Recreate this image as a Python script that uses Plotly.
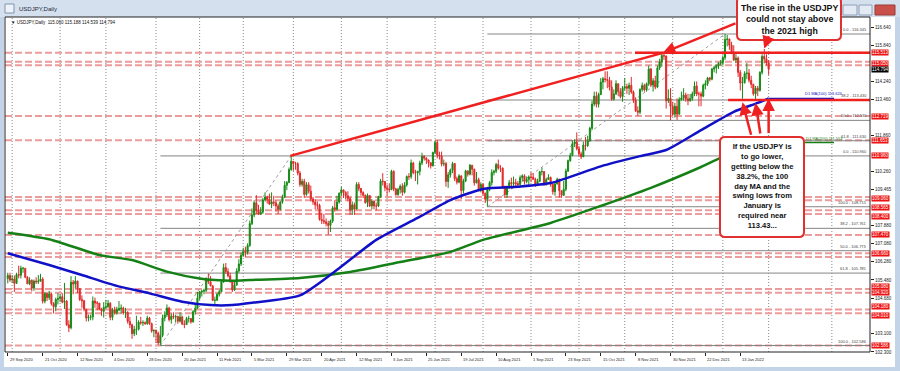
import plotly.graph_objects as go

# ---------------- DATA ----------------
closes = [
105.68,105.48,105.52,105.33,105.72,105.69,106.00,106.00,105.60,105.31,
105.47,105.12,105.43,105.40,105.43,105.52,104.54,104.88,104.70,104.86,
104.44,104.30,104.62,104.66,104.74,104.50,104.54,103.50,103.37,105.38,
105.30,105.43,105.10,104.62,104.56,104.19,103.80,103.83,103.85,104.55,
104.46,104.46,104.20,104.10,104.27,104.30,104.45,103.83,104.17,104.03,
104.16,104.22,104.24,104.02,104.04,103.65,103.50,103.11,103.29,103.30,
103.62,103.59,103.60,103.55,103.80,103.55,103.23,103.25,103.13,102.70,
103.03,103.80,103.94,104.24,103.73,103.88,103.84,103.87,103.66,103.85,
103.53,103.51,103.78,103.78,103.63,104.08,104.23,104.68,104.95,104.98,
105.02,105.53,105.40,105.22,104.58,104.59,104.85,104.96,105.40,106.03,
105.85,105.66,105.42,105.04,105.25,105.88,106.19,106.57,106.74,106.70,
107.00,107.97,108.35,108.89,108.55,108.40,108.48,109.02,109.14,109.04,
108.83,108.93,108.89,108.75,108.60,108.93,109.15,109.66,109.79,110.36,
110.72,110.62,110.62,110.20,109.70,109.84,109.26,109.69,109.40,109.06,
108.93,108.80,108.78,108.15,108.10,108.05,107.98,107.89,108.08,108.67,
108.60,108.92,109.31,109.46,109.35,109.20,109.08,108.58,108.80,108.61,
109.70,109.52,109.34,109.22,108.90,109.21,108.75,108.96,108.75,108.75,
109.15,109.85,109.83,109.55,109.50,109.47,110.28,109.50,109.25,109.48,
109.62,109.35,109.68,110.05,110.04,110.65,110.22,110.21,110.28,110.65,
110.94,110.86,110.78,110.66,110.52,111.11,111.55,111.00,110.95,110.60,
110.62,109.83,110.13,110.33,110.62,109.96,109.80,110.08,109.43,109.85,
110.30,110.15,110.55,110.37,109.77,109.91,109.46,109.70,109.30,109.05,
109.48,109.78,110.23,110.28,110.58,110.42,110.42,109.60,109.25,109.60,
109.78,109.74,109.78,109.73,109.70,110.00,110.08,109.83,109.92,110.03,
110.02,109.93,109.71,109.84,110.26,110.27,109.73,109.92,110.01,109.70,
109.38,109.72,109.93,109.42,109.22,109.49,110.29,110.75,110.99,111.50,
111.57,111.28,111.05,110.92,111.44,111.42,111.62,112.18,113.25,113.60,
113.24,113.67,114.22,114.37,114.34,114.30,114.00,113.47,113.70,114.15,
113.80,113.58,113.95,114.02,113.95,114.08,113.78,113.42,112.95,112.89,
113.89,114.07,113.88,114.15,114.80,114.09,114.28,114.00,114.85,115.10,
115.40,115.37,113.40,113.50,113.15,112.80,113.15,112.80,113.45,113.52,
113.65,113.48,113.40,113.50,113.70,114.05,113.70,113.70,113.60,114.08,
114.15,114.40,114.35,114.80,114.85,114.95,115.05,115.08,115.30,116.10,
116.12,115.85,115.55,115.20,115.28,114.65,114.18,114.20,114.60,114.62,
114.30,114.12,113.70,113.95,113.85,114.65,115.35,115.25,115.06,114.79]

highs = [
105.80,105.80,105.70,105.68,105.80,106.11,106.11,106.05,106.00,105.65,
105.60,105.50,105.50,105.60,105.70,105.75,105.60,104.95,104.90,105.00,
104.90,104.50,104.70,104.90,104.85,104.90,105.35,104.60,103.70,105.65,
105.48,105.65,105.45,105.10,104.80,104.60,104.20,103.95,103.95,104.75,
104.70,104.55,104.45,104.25,104.50,104.60,104.60,104.50,104.25,104.30,
104.30,104.55,104.40,104.30,104.25,104.10,103.85,103.55,103.45,103.90,
103.70,103.85,103.70,103.65,103.90,103.85,103.60,103.30,103.30,103.20,
103.45,103.95,104.10,104.40,104.30,104.00,104.05,103.95,103.90,104.05,
103.90,103.70,103.85,103.90,103.80,104.15,104.45,104.95,105.00,105.05,
105.10,105.60,105.77,105.65,105.25,104.75,104.90,105.05,105.45,106.20,
106.23,106.00,105.80,105.45,105.40,106.00,106.40,106.69,106.90,106.95,
107.10,108.10,108.64,109.00,109.23,108.80,108.70,109.10,109.35,109.20,
109.30,109.35,109.20,109.00,108.85,108.95,109.25,109.85,109.85,110.45,
110.96,110.70,110.70,110.68,110.30,109.95,109.95,109.80,109.80,109.65,
109.15,109.05,108.95,108.85,108.45,108.40,108.20,108.10,108.15,108.75,
109.00,109.20,109.35,109.60,109.45,109.40,109.40,109.15,108.95,108.90,
109.80,109.80,109.55,109.40,109.25,109.30,109.20,109.05,109.00,108.90,
109.20,109.95,110.20,109.85,109.70,109.75,110.35,110.32,109.55,109.55,
109.70,109.75,109.80,110.10,110.20,110.80,110.70,110.35,110.30,110.75,
111.10,111.00,110.90,110.80,110.60,111.15,111.65,111.66,111.15,111.15,
110.80,110.70,110.25,110.40,110.70,110.65,110.05,110.15,110.00,109.95,
110.35,110.30,110.60,110.55,110.40,110.25,110.00,109.80,109.75,109.35,
109.60,109.85,110.37,110.35,110.65,110.80,110.55,110.45,109.65,109.65,
109.90,110.00,110.05,109.95,109.85,110.10,110.15,110.15,110.05,110.10,
110.25,110.20,110.00,109.95,110.30,110.45,110.20,110.00,110.15,110.05,
109.75,109.80,110.00,109.95,109.45,109.85,110.40,110.80,111.10,111.65,
111.70,112.00,111.40,111.15,111.60,111.80,111.85,112.25,113.40,113.80,
113.80,113.75,114.40,114.45,114.70,114.70,114.45,114.30,113.90,114.30,
114.15,113.95,114.05,114.40,114.15,114.20,114.45,113.85,113.55,113.15,
113.95,114.20,114.15,114.20,114.95,114.85,114.40,114.50,114.95,115.25,
115.52,115.50,115.40,113.90,113.95,113.35,113.30,113.50,113.55,113.80,
113.95,113.75,113.70,113.70,113.80,114.25,114.25,113.80,113.80,114.15,
114.30,114.45,114.45,114.85,114.95,115.00,115.10,115.20,115.40,116.35,
116.30,116.15,116.00,115.85,115.45,115.35,114.75,114.45,114.70,115.06,
114.80,114.50,114.15,114.05,114.05,114.70,115.45,115.68,115.45,115.19]

lows = [
105.33,105.40,105.35,104.95,105.30,105.55,105.55,105.80,105.56,105.30,
105.25,104.98,105.00,105.30,105.30,105.40,104.44,104.45,104.55,104.60,
104.35,104.00,104.10,104.40,104.50,104.45,104.20,103.45,103.18,103.30,
104.85,105.10,104.90,104.55,104.25,104.10,103.65,103.65,103.70,103.70,
104.25,104.15,104.15,103.90,103.82,104.20,104.25,103.70,103.70,103.95,
103.95,104.10,104.00,103.95,103.80,103.55,103.35,102.88,103.00,103.05,
103.25,103.50,103.45,103.50,103.50,103.50,103.15,102.95,102.70,102.60,
102.59,102.95,103.65,103.85,103.65,103.55,103.75,103.60,103.55,103.60,
103.50,103.35,103.50,103.60,103.55,103.60,103.95,104.25,104.60,104.75,
104.85,104.95,105.30,105.20,104.55,104.40,104.55,104.75,104.95,105.35,
105.75,105.60,105.35,104.95,105.00,105.25,105.80,106.10,106.50,106.50,
106.60,106.95,107.90,108.25,108.40,108.35,108.35,108.40,108.95,108.85,
108.80,108.65,108.75,108.50,108.40,108.55,108.85,109.10,109.45,109.75,
110.30,110.30,110.35,110.10,109.60,109.60,109.10,109.20,109.30,108.95,
108.80,108.60,108.60,108.10,107.95,107.95,107.85,107.48,107.60,108.00,
108.50,108.55,108.85,109.20,109.10,109.05,108.95,108.35,108.35,108.35,
108.60,109.40,109.20,109.10,108.85,108.70,108.70,108.60,108.60,108.55,
108.70,109.10,109.65,109.40,109.20,109.35,109.45,109.40,109.20,109.20,
109.30,109.20,109.30,109.60,109.90,109.95,110.15,109.85,109.70,110.10,
110.55,110.75,110.60,110.45,110.40,110.50,111.05,110.85,110.80,110.50,
110.50,109.60,109.55,110.00,110.20,109.85,109.70,109.75,109.06,109.30,
109.80,110.05,110.10,110.10,109.65,109.75,109.40,109.35,109.20,108.88,
108.72,109.40,109.65,110.10,110.20,110.35,110.25,109.50,109.10,109.10,
109.50,109.50,109.60,109.60,109.55,109.60,109.85,109.70,109.75,109.60,
109.80,109.90,109.60,109.65,109.80,110.10,109.65,109.65,109.90,109.60,
109.25,109.20,109.70,109.12,109.12,109.20,109.40,110.25,110.70,110.95,
111.35,111.20,110.95,110.82,110.95,111.20,111.35,111.60,112.10,113.15,
113.10,113.10,113.65,113.90,114.20,113.95,113.85,113.40,113.40,113.65,
113.60,113.50,113.35,113.85,113.70,113.65,113.70,113.30,112.90,112.73,
112.80,113.80,113.80,113.80,114.05,114.00,113.80,113.90,113.95,114.75,
114.90,115.20,113.05,113.30,112.53,112.70,112.65,112.55,112.80,113.40,
113.40,113.35,113.20,113.35,113.40,113.60,113.60,113.15,113.15,113.55,
113.90,114.05,114.25,114.30,114.65,114.60,114.80,114.95,114.95,115.20,
115.80,115.65,115.45,115.15,115.05,114.45,113.85,113.48,114.15,114.35,
114.20,113.95,113.62,113.47,113.60,113.80,114.55,115.05,114.95,114.54]

first_open = 105.55
opens = [first_open] + closes[:-1]
bars = list(range(len(closes)))

ma100_bar = [0, 19, 34, 50, 65, 80, 93, 103, 111, 134, 152, 169, 188, 203, 218, 234, 249, 272, 290, 302, 318, 333, 344, 349]
ma100_val = [106.66, 106.14, 105.70, 105.22, 104.89, 104.52, 104.37, 104.37, 104.46, 104.80, 106.00, 107.25,
             108.22, 109.01, 109.50, 109.60, 109.76, 110.50, 110.95, 111.22, 112.10, 112.91, 113.30, 113.50]
ma200_bar = [0, 19, 42, 57, 73, 88, 103, 111, 134, 157, 180, 203, 218, 249, 272, 295, 318, 327, 349]
ma200_val = [107.57, 107.28, 106.58, 106.36, 105.85, 105.55, 105.45, 105.48, 105.57, 105.83, 106.27, 106.72,
             107.25, 108.00, 108.75, 109.55, 110.47, 110.87, 111.55]
ma100_last_text = "D1 MA(100) 113.624"
ma200_last_text = "D1 MA(200) 111.553"
ma_label_bar = 379

xlabel_text = ["29 Sep 2020", "21 Oct 2020", "12 Nov 2020", "4 Dec 2020", "28 Dec 2020", "20 Jan 2021",
               "11 Feb 2021", "5 Mar 2021", "29 Mar 2021", "20 Apr 2021", "12 May 2021", "3 Jun 2021",
               "25 Jun 2021", "19 Jul 2021", "10 Aug 2021", "1 Sep 2021", "23 Sep 2021", "15 Oct 2021",
               "8 Nov 2021", "30 Nov 2021", "22 Dec 2021", "13 Jan 2022"]
xlabel_bar = [0, 16, 32, 48, 64, 80, 96, 112, 128, 144, 160, 176, 192, 208, 224, 240, 256, 272, 288, 304, 320, 336]
month_bar = [2, 24, 45, 68, 88, 108, 131, 153, 174, 196, 218, 240, 262, 283, 305, 328, 349, 378]

# visible right-axis grid labels (the others are hidden behind the price boxes)
ylabel_vals = [116.640, 115.840, 114.240, 113.460, 111.860, 110.260, 109.465,
               107.880, 107.080, 106.280, 105.480, 104.680, 103.100, 102.300]

dash_levels = [115.513, 115.12, 114.96, 112.719, 111.653, 109.14, 109.00, 108.565, 108.40, 107.47,
               106.66, 106.50, 105.08, 104.92, 104.18, 104.01, 102.586]

fibA_levels = [116.345, 113.430, 112.530, 111.630, 108.715]
fibA_names = ["0.0", "38.2", "50.0", "61.8", "100.0"]
fibA_bar = [220, 329]
fibB_levels = [110.960, 107.761, 106.773, 105.785, 102.586]
fibB_names = ["0.0", "38.2", "50.0", "61.8", "100.0"]
fibB_bar = [70, 130]

box_vals = [115.513, 115.050, 112.719, 111.653, 110.960, 109.060, 108.565, 108.400, 107.470, 106.660,
            105.080, 104.920, 104.180, 104.010, 102.586]
current_price = 114.794
ohlc_title = "USDJPY,Daily  115.060 115.188 114.539 114.794"

trend_bar = [129.6, 300.5]
trend_val = [110.960, 115.513]
high2021 = 115.513
high2021_bar = 287.7
swing_level = 113.430
swing_bar = 330.4

X_MIN, X_MAX = -1.28, 395.5
Y_MIN, Y_MAX = 102.299, 117.096

# ---------------- STYLE ----------------
FONT = "Liberation Sans"
GREEN = "#178a17"
RED = "#e02a2a"
LINE_RED = "#f02020"
# small vertical nudges (px) so stacked axis price boxes sit one above the other
BOX_NUDGE = {108.565: 2.5, 108.400: -2.5, 105.080: 2.8, 104.920: 0.6, 104.180: 2.5, 104.010: -2.5}

def pxx(px):
    return (px - 5) / 865.0

def pxy(py):
    return (352 - py) / 335.0

fig = go.Figure()

fig.add_trace(go.Candlestick(
    x=bars, open=opens, high=highs, low=lows, close=closes,
    increasing=dict(line=dict(color=GREEN, width=1), fillcolor=GREEN),
    decreasing=dict(line=dict(color=RED, width=1), fillcolor=RED),
    whiskerwidth=0, hoverinfo="skip"))

fig.add_trace(go.Scatter(x=ma200_bar, y=ma200_val, mode="lines",
                         line=dict(color="#158015", width=2.5, shape="spline", smoothing=0.6), hoverinfo="skip"))
fig.add_trace(go.Scatter(x=ma100_bar, y=ma100_val, mode="lines",
                         line=dict(color="#1010c8", width=2.5, shape="spline", smoothing=0.6), hoverinfo="skip"))
fig.add_trace(go.Scatter(x=[ma100_bar[-1], ma_label_bar], y=[ma100_val[-1], ma100_val[-1]], mode="lines",
                         line=dict(color="#1010c8", width=1.5), hoverinfo="skip"))
fig.add_trace(go.Scatter(x=[ma200_bar[-1], ma_label_bar], y=[ma200_val[-1], ma200_val[-1]], mode="lines",
                         line=dict(color="#158015", width=1.5), hoverinfo="skip"))

shapes = []
for m in month_bar:
    shapes.append(dict(type="line", xref="x", yref="paper", x0=m, x1=m, y0=0, y1=1,
                       line=dict(color="#8a8a8a", width=1, dash="1px,2px"), layer="below"))
for lv in dash_levels:
    shapes.append(dict(type="line", xref="paper", yref="y", x0=0, x1=1, y0=lv, y1=lv,
                       line=dict(color="#eb9c9c", width=2, dash="7px,3px"), layer="below"))
for lv in fibA_levels:
    shapes.append(dict(type="line", xref="x", yref="y", x0=fibA_bar[0], x1=X_MAX, y0=lv, y1=lv,
                       line=dict(color="#858585", width=1), layer="below"))
for lv in fibB_levels:
    shapes.append(dict(type="line", xref="x", yref="y", x0=fibB_bar[0], x1=X_MAX, y0=lv, y1=lv,
                       line=dict(color="#858585", width=1), layer="below"))
shapes.append(dict(type="line", xref="x", yref="y", x0=fibA_bar[0], y0=fibA_levels[-1], x1=fibA_bar[1], y1=fibA_levels[0],
                   line=dict(color="#a0a0a0", width=1, dash="dot"), layer="below"))
shapes.append(dict(type="line", xref="x", yref="y", x0=fibB_bar[0], y0=fibB_levels[-1], x1=fibB_bar[1], y1=fibB_levels[0],
                   line=dict(color="#a0a0a0", width=1, dash="dot"), layer="below"))
shapes.append(dict(type="line", xref="x", yref="y", x0=trend_bar[0], y0=trend_val[0], x1=trend_bar[1], y1=trend_val[1],
                   line=dict(color=LINE_RED, width=2.5), layer="above"))
shapes.append(dict(type="line", xref="x", yref="y", x0=high2021_bar, x1=X_MAX, y0=high2021, y1=high2021,
                   line=dict(color=LINE_RED, width=2.5), layer="above"))
shapes.append(dict(type="line", xref="x", yref="y", x0=swing_bar, x1=X_MAX, y0=swing_level, y1=swing_level,
                   line=dict(color=LINE_RED, width=2.5), layer="above"))


def rrect(x0, y0, x1, y1, r):
    def P(a, b):
        return f"{pxx(a):.5f},{pxy(b):.5f}"
    return (f"M {P(x0 + r, y0)} L {P(x1 - r, y0)} Q {P(x1, y0)} {P(x1, y0 + r)} "
            f"L {P(x1, y1 - r)} Q {P(x1, y1)} {P(x1 - r, y1)} L {P(x0 + r, y1)} "
            f"Q {P(x0, y1)} {P(x0, y1 - r)} L {P(x0, y0 + r)} Q {P(x0, y0)} {P(x0 + r, y0)} Z")

shapes += [
    dict(type="rect", xref="paper", yref="paper", x0=pxx(0), x1=pxx(900), y0=pxy(0), y1=pxy(17),
         fillcolor="#d5e0ee", line=dict(width=0), layer="above"),
    dict(type="rect", xref="paper", yref="paper", x0=pxx(0), x1=pxx(4), y0=pxy(17), y1=pxy(371),
         fillcolor="#c4d4e8", line=dict(width=0), layer="above"),
    dict(type="rect", xref="paper", yref="paper", x0=pxx(895), x1=pxx(900), y0=pxy(17), y1=pxy(371),
         fillcolor="#c4d4e8", line=dict(width=0), layer="above"),
    dict(type="rect", xref="paper", yref="paper", x0=pxx(0), x1=pxx(900), y0=pxy(367), y1=pxy(371),
         fillcolor="#c4d4e8", line=dict(width=0), layer="above"),
    dict(type="rect", xref="paper", yref="paper", x0=pxx(5), x1=pxx(14), y0=pxy(4), y1=pxy(13),
         fillcolor="#eef3f9", line=dict(color="#7f93ad", width=1), layer="above"),
    dict(type="rect", xref="paper", yref="paper", x0=pxx(843), x1=pxx(857), y0=pxy(5), y1=pxy(15),
         fillcolor="#e3eaf3", line=dict(color="#8da0b8", width=1), layer="above"),
    dict(type="rect", xref="paper", yref="paper", x0=pxx(859), x1=pxx(872), y0=pxy(5), y1=pxy(15),
         fillcolor="#e3eaf3", line=dict(color="#8da0b8", width=1), layer="above"),
    dict(type="rect", xref="paper", yref="paper", x0=pxx(875), x1=pxx(895), y0=pxy(5), y1=pxy(15),
         fillcolor="#c9504a", line=dict(color="#9b3a36", width=1), layer="above"),
    dict(type="rect", xref="paper", yref="paper", x0=0, x1=1, y0=0, y1=1,
         line=dict(color="#222222", width=1), layer="above"),
]
shapes.append(dict(type="path", xref="paper", yref="paper", path=rrect(737, -3, 841, 40, 5),
                   fillcolor="white", line=dict(color="#e03030", width=2), layer="above"))
shapes.append(dict(type="path", xref="paper", yref="paper", path=rrect(720, 137, 804, 237, 5),
                   fillcolor="white", line=dict(color="#e03030", width=2), layer="above"))

ann = []
for b, t in zip(xlabel_bar, xlabel_text):
    ann.append(dict(x=b, y=pxy(359), xref="x", yref="paper", text=t, showarrow=False, xanchor="left",
                    yanchor="middle", font=dict(size=4, color="#222", family=FONT)))
for lv, nm in zip(fibA_levels, fibA_names):
    ann.append(dict(x=1, y=lv, xref="paper", yref="y", text=f"{nm} - {lv:.3f}", showarrow=False,
                    xanchor="right", yanchor="bottom", xshift=-1, font=dict(size=4, color="#444", family=FONT)))
for lv, nm in zip(fibB_levels, fibB_names):
    ann.append(dict(x=1, y=lv, xref="paper", yref="y", text=f"{nm} - {lv:.3f}", showarrow=False,
                    xanchor="right", yanchor="bottom", xshift=-1, font=dict(size=4, color="#444", family=FONT)))
ann.append(dict(x=pxx(845), y=ma100_val[-1], xref="paper", yref="y", text=ma100_last_text, showarrow=False,
                xanchor="right", yanchor="bottom", font=dict(size=4, color="#1010c8", family=FONT)))
ann.append(dict(x=pxx(845), y=ma200_val[-1], xref="paper", yref="y", text=ma200_last_text, showarrow=False,
                xanchor="right", yanchor="bottom", font=dict(size=4, color="#158015", family=FONT)))
for v in box_vals:
    ann.append(dict(x=pxx(871), y=v, xref="paper", yref="y", text=f"{v:.3f}", showarrow=False,
                    xanchor="left", yanchor="middle", bgcolor="#ee1111", borderpad=0,
                    yshift=BOX_NUDGE.get(v, 0),
                    font=dict(size=4.5, color="white", family=FONT)))
ann.append(dict(x=pxx(871), y=current_price, xref="paper", yref="y", text=f"{current_price:.3f}", showarrow=False,
                xanchor="left", yanchor="middle", bgcolor="#000000", borderpad=0,
                font=dict(size=4.5, color="white", family=FONT)))
ann.append(dict(x=pxx(17), y=pxy(9), xref="paper", yref="paper", text="USDJPY,Daily", showarrow=False,
                xanchor="left", yanchor="middle", font=dict(size=6, color="#1e2a3a", family=FONT)))
ann.append(dict(x=pxx(9), y=pxy(23), xref="paper", yref="paper", text="\u25bc " + ohlc_title, showarrow=False,
                xanchor="left", yanchor="middle", font=dict(size=4.5, color="#111", family=FONT)))
ann.append(dict(x=pxx(789), y=pxy(20), xref="paper", yref="paper",
                text="<b>The rise in the USDJPY<br>could not stay above<br>the 2021 high</b>",
                showarrow=False, xanchor="center", yanchor="middle", align="center",
                font=dict(size=8.8, color="#111", family=FONT)))
ann.append(dict(x=pxx(762), y=pxy(186), xref="paper", yref="paper",
                text="<b>If the USDJPY is<br>to go lower,<br>getting below the<br>38.2%, the 100<br>day MA and the<br>"
                     "swing lows from<br>January is<br>required near<br>113.43...</b>",
                showarrow=False, xanchor="center", yanchor="middle", align="center",
                font=dict(size=7.6, color="#111", family=FONT)))
arrows = [
    (300.5, 115.513, 74, -30),
    (347, 115.70, 5, -14),
    (337, 113.33, 9, 34),
    (343, 113.30, 5, 32),
    (349, 113.50, 0, 36),
]
for xa, ya, dx, dy in arrows:
    ann.append(dict(x=xa, y=ya, xref="x", yref="y", ax=dx, ay=dy, text="", showarrow=True,
                    arrowhead=2, arrowsize=1, arrowwidth=2.5, arrowcolor=LINE_RED))

fig.update_layout(
    width=900, height=371, margin=dict(l=5, r=30, t=17, b=19, pad=0),
    paper_bgcolor="white", plot_bgcolor="white", showlegend=False, hovermode=False,
    xaxis=dict(range=[X_MIN, X_MAX], showgrid=False, zeroline=False, showticklabels=False,
               ticks="outside", ticklen=3, tickcolor="#222", tickvals=xlabel_bar,
               rangeslider=dict(visible=False), showline=False, fixedrange=True),
    yaxis=dict(side="right", range=[Y_MIN, Y_MAX], showgrid=False, zeroline=False,
               tickvals=ylabel_vals, ticktext=[f"{v:.3f}" for v in ylabel_vals],
               ticks="outside", ticklen=3, tickcolor="#222",
               tickfont=dict(size=4.5, color="#222", family=FONT), showline=False, fixedrange=True),
    shapes=shapes, annotations=ann,
)

fig.write_html("out.html")
